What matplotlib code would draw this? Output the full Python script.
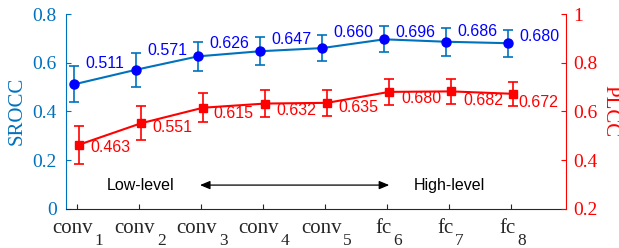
import numpy as np
import matplotlib
matplotlib.use('Agg')
import matplotlib.pyplot as plt
from matplotlib.ticker import FuncFormatter

# data
layers = ['conv', 'conv', 'conv', 'conv', 'conv', 'fc', 'fc', 'fc']
layer_idx = ['1', '2', '3', '4', '5', '6', '7', '8']
srocc = [0.511, 0.571, 0.626, 0.647, 0.660, 0.696, 0.686, 0.680]
srocc_err = [0.074, 0.070, 0.060, 0.057, 0.053, 0.053, 0.057, 0.055]
plcc = [0.463, 0.551, 0.615, 0.632, 0.635, 0.680, 0.682, 0.672]
plcc_err = [0.078, 0.070, 0.060, 0.055, 0.053, 0.053, 0.050, 0.050]

# label offsets (points) relative to each marker
srocc_dy = [15, 13.7, 9.4, 8.6, 11.5, 5, 7.2, 5]
plcc_dy = [-1.7, -2.7, -4.5, -4.7, -3.7, -5.1, -6.2, -5.9]
plcc_dx = [8, 8, 7.5, 8, 8, 8.5, 8.5, 3.6]

BLUE = '#0072BD'
GRAY = '#262626'
serif = 'Liberation Serif'
sans = 'Liberation Sans'

x = np.arange(1, len(srocc) + 1)

fig = plt.figure(figsize=(6.19, 2.48), dpi=100)
ax = fig.add_axes([0.1066, 0.1585, 0.8078, 0.785])
ax2 = ax.twinx()

ax.errorbar(x - 0.04, srocc, yerr=srocc_err, color=BLUE, lw=1.5, elinewidth=1.2,
            capsize=3.5, capthick=1.2, marker='o', ms=6.5, mfc='blue', mec='blue', zorder=3)
ax2.errorbar(x + 0.04, plcc, yerr=plcc_err, color='red', lw=1.5, elinewidth=1.2,
             capsize=3.5, capthick=1.2, marker='s', ms=5.5, mfc='red', mec='red', zorder=3)

for xi, v, dy in zip(x - 0.04, srocc, srocc_dy):
    ax.annotate(f'{v:.3f}', (xi, v), xytext=(8, dy), textcoords='offset points',
                ha='left', va='center', color='blue', fontsize=11.5, family=sans)
for xi, v, dx, dy in zip(x + 0.04, plcc, plcc_dx, plcc_dy):
    ax2.annotate(f'{v:.3f}', (xi, v), xytext=(dx, dy), textcoords='offset points',
                 ha='left', va='center', color='red', fontsize=11.5, family=sans)

ax.set_xlim(0.83, 8.89)
ax.set_ylim(0, 0.8)
ax2.set_ylim(0.2, 1.0)
ax.set_yticks([0, 0.2, 0.4, 0.6, 0.8])
ax2.set_yticks([0.2, 0.4, 0.6, 0.8, 1.0])
fmt = FuncFormatter(lambda v, p: f'{v:g}')
ax.yaxis.set_major_formatter(fmt)
ax2.yaxis.set_major_formatter(fmt)

ax.set_xticks(x)
ax.set_xticklabels([])
ax.tick_params(axis='x', direction='in', length=3.5, color=GRAY)
ax.tick_params(axis='y', direction='in', length=3.5, color=BLUE, labelcolor=BLUE,
               labelsize=14, pad=6.5)
ax2.tick_params(axis='y', direction='in', length=3.5, color='red', labelcolor='red',
                labelsize=14, pad=5)
for lab in ax.get_yticklabels() + ax2.get_yticklabels():
    lab.set_family(serif)

for a in (ax, ax2):
    a.spines['top'].set_visible(False)
ax.spines['right'].set_visible(False)
ax.spines['left'].set_color(BLUE)
ax.spines['bottom'].set_color(GRAY)
ax2.spines['left'].set_visible(False)
ax2.spines['bottom'].set_visible(False)
ax2.spines['right'].set_color('red')

# x tick labels with subscripts
for xi, base, sub in zip(x, layers, layer_idx):
    t = ax.annotate(base, (xi, 0), xycoords=('data', 'axes fraction'), xytext=(-2.6, -17.3),
                    textcoords='offset points', ha='center', va='baseline',
                    fontsize=15, family=serif, color=GRAY)
    ax.annotate(sub, (1, 0), xycoords=(t, 'axes fraction'), xytext=(1.2, -26),
                textcoords='offset points', ha='left', va='baseline',
                fontsize=12.5, family=serif, color=GRAY)

ax.set_ylabel('SROCC', color=BLUE, fontsize=15, family=serif)
ax.yaxis.set_label_coords(-0.078, 0.5)
ax2.set_ylabel('PLCC', color='red', fontsize=15, family=serif, rotation=-90,
               va='center', ha='center')
ax2.yaxis.set_label_coords(1.087, 0.5)

# low / high level annotation
ax.annotate('', xy=(2.99, 0.097), xytext=(6.04, 0.097),
            arrowprops=dict(arrowstyle='<|-|>,head_length=0.6,head_width=0.25',
                            color='black', lw=0.9, shrinkA=0, shrinkB=0))
ax.text(2.03, 0.095, 'Low-level', ha='center', va='center', fontsize=11.5, family=sans)
ax.text(7.01, 0.095, 'High-level', ha='center', va='center', fontsize=11.5, family=sans)

fig.savefig('out.png', dpi=100)
